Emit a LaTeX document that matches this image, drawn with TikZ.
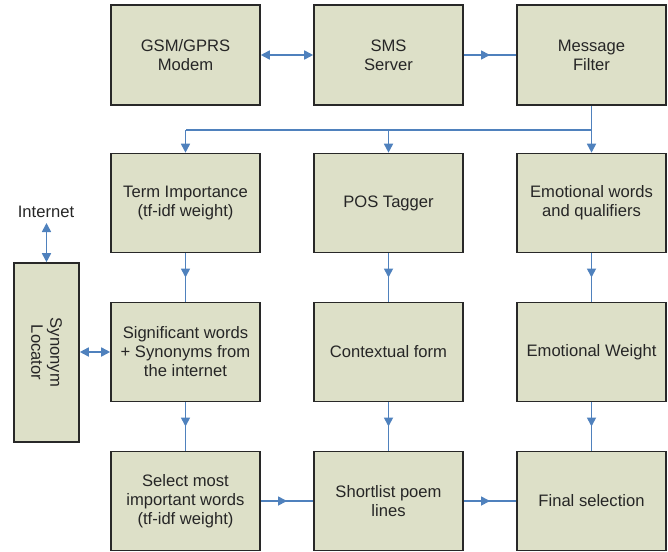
\documentclass[tikz,border=0pt]{standalone}
\usepackage{fontspec}
\setmainfont{Liberation Sans}
\usetikzlibrary{arrows.meta,decorations.markings}
\definecolor{boxfill}{RGB}{221,224,200}
\definecolor{arrblue}{RGB}{79,129,189}
\definecolor{boxline}{RGB}{40,40,40}
\begin{document}
\begin{tikzpicture}[x=1pt,y=-1pt,
  blk/.style={draw=boxline, line width=1.6pt, fill=boxfill, minimum width=149pt,
    minimum height=99pt, align=center, inner sep=0pt,
    font=\fontsize{16.6}{19}\selectfont, text=black!85},
  lbl/.style={align=center, inner sep=0pt, font=\fontsize{16.6}{19}\selectfont, text=black!85},
  conn/.style={color=arrblue, line width=1.7pt},
  tipend/.style={-{Triangle[length=9pt,width=9pt]}},
  dbl/.style={{Triangle[length=9pt,width=9pt]}-{Triangle[length=9pt,width=9pt]}},
  midarrow/.style={postaction={decorate}, decoration={markings,
    mark=at position 0.5 with {\arrow{Triangle[length=9pt,width=9pt]}}}}
]
\useasboundingbox (0,0) rectangle (668,551);

\node[blk, minimum height=100pt] (gsm) at (185.5,55) {GSM/GPRS\\Modem};
\node[blk, minimum height=100pt] (sms) at (388.5,55) {SMS\\Server};
\node[blk, minimum height=100pt] (flt) at (591.5,55) {Message\\Filter};

\node[blk] (ti)  at (185.5,203) {Term Importance\\(tf-idf weight)};
\node[blk] (pos) at (388.5,203) {POS Tagger};
\node[blk] (emo) at (591.5,203) {Emotional words\\and qualifiers};

\node[blk] (sig) at (185.5,352) {Significant words\\+ Synonyms from\\the internet};
\node[blk] (ctx) at (388.5,352) {Contextual form};
\node[blk] (ew)  at (591.5,352) {Emotional Weight};

\node[blk] (sel) at (185.5,501) {Select most\\important words\\(tf-idf weight)};
\node[blk] (sl)  at (388.5,501) {Shortlist poem\\lines};
\node[blk] (fin) at (591.5,501) {Final selection};

\node[blk, minimum width=65pt, minimum height=179pt] (syn) at (46.5,352.5) {};
\node[lbl, rotate=-90] (synt) at (syn.center) {Synonym\\Locator};
\node[lbl] (inet) at (46,212) {Internet};
\coordinate (inb) at (46.5,223);

% top row
\draw[conn, dbl] (gsm.east) -- (sms.west);
\draw[conn, midarrow] (sms.east) -- (flt.west);

% bus
\coordinate (busr) at (591.5,130);
\coordinate (busl) at (185.5,130);
\coordinate (busm) at (388.5,130);
\draw[conn] (flt.south) -- (busr) -- (busl);
\draw[conn, tipend] (busl) -- (ti.north);
\draw[conn, tipend] (busm) -- (pos.north);
\draw[conn, tipend] (busr) -- (emo.north);

% verticals
\draw[conn, midarrow] (ti.south) -- (sig.north);
\draw[conn, midarrow] (pos.south) -- (ctx.north);
\draw[conn, midarrow] (emo.south) -- (ew.north);
\draw[conn, midarrow] (sig.south) -- (sel.north);
\draw[conn, midarrow] (ctx.south) -- (sl.north);
\draw[conn, midarrow] (ew.south) -- (fin.north);

% bottom row
\draw[conn, midarrow] (sel.east) -- (sl.west);
\draw[conn, midarrow] (sl.east) -- (fin.west);

% synonym locator
\draw[conn, dbl] (syn.east |- sig.west) -- (sig.west);
\draw[conn, dbl] (inb) -- (syn.north);
\end{tikzpicture}
\end{document}
